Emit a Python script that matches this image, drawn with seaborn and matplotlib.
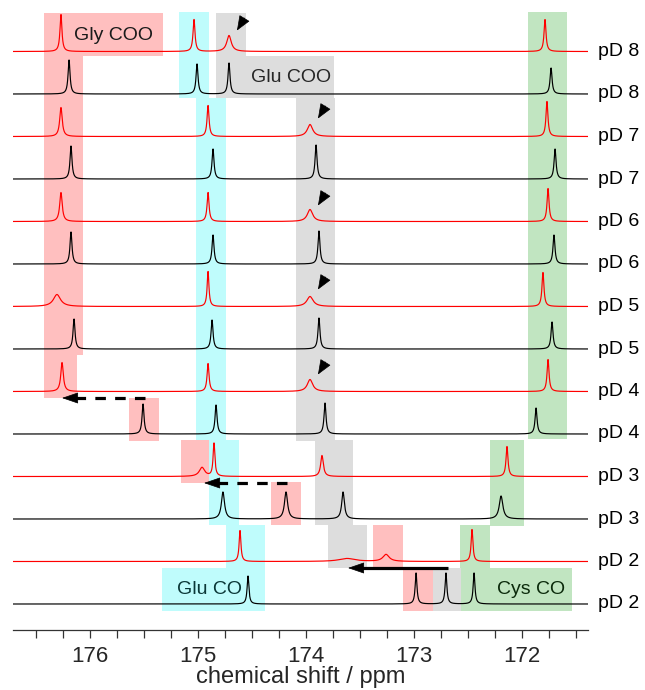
import numpy as np
import matplotlib
matplotlib.use("Agg")
import matplotlib.pyplot as plt
import matplotlib.transforms as mtransforms
from matplotlib.patches import Rectangle
from matplotlib.ticker import MultipleLocator, FuncFormatter
import seaborn as sns

# traces from bottom to top
trace_labels = ["pD 2", "pD 2", "pD 3", "pD 3", "pD 4", "pD 4", "pD 5",
                "pD 5", "pD 6", "pD 6", "pD 7", "pD 7", "pD 8", "pD 8"]
trace_colors = ["black", "red"] * 7
spacing = 42.5

# peak tables (ppm, height, fwhm in ppm), one row per trace
peak_pos = [
    [174.537, 172.981, 172.704, 172.444],
    [174.611, 173.620, 173.259, 172.463],
    [174.769, 174.185, 173.657, 172.194],
    [174.963, 174.852, 173.852, 172.139],
    [175.509, 174.833, 173.824, 171.870],
    [176.259, 174.907, 173.963, 171.759],
    [176.148, 174.870, 173.880, 171.722],
    [176.306, 174.907, 173.963, 171.806],
    [176.176, 174.861, 173.880, 171.704],
    [176.269, 174.907, 173.963, 171.759],
    [176.176, 174.861, 173.907, 171.694],
    [176.269, 174.907, 173.963, 171.769],
    [176.194, 175.009, 174.713, 171.731],
    [176.269, 175.037, 174.713, 171.787],
]
peak_height = [
    [28, 31, 31, 31],
    [31, 3, 7, 32],
    [27, 27, 27, 23],
    [9, 33, 21, 30],
    [30, 29, 31, 26],
    [29, 28, 12, 32],
    [30, 29, 31, 27],
    [12, 35, 10, 34],
    [32, 29, 33, 29],
    [29, 29, 12, 33],
    [33, 30, 34, 30],
    [29, 31, 12, 35],
    [34, 30, 31, 26],
    [37, 32, 16, 32],
]
peak_width = [
    [0.02, 0.02, 0.02, 0.02],
    [0.02, 0.18, 0.07, 0.02],
    [0.035, 0.035, 0.03, 0.04],
    [0.06, 0.02, 0.03, 0.022],
    [0.022, 0.022, 0.022, 0.022],
    [0.028, 0.022, 0.06, 0.022],
    [0.022, 0.022, 0.022, 0.022],
    [0.08, 0.02, 0.07, 0.022],
    [0.022, 0.022, 0.022, 0.022],
    [0.028, 0.022, 0.06, 0.022],
    [0.022, 0.022, 0.022, 0.022],
    [0.028, 0.022, 0.06, 0.022],
    [0.022, 0.022, 0.022, 0.022],
    [0.022, 0.022, 0.05, 0.022],
]

# highlight boxes: ppm from, ppm to, y from, y to, colour
box_x0 = [176.426, 176.426, 176.426, 175.176, 175.019, 174.833, 174.833, 174.093,
          171.944, 175.639, 175.157, 174.898, 174.324, 173.917, 172.296, 174.741,
          173.796, 173.380, 172.574, 175.333, 173.102, 172.824, 172.565]
box_x1 = [175.324, 176.065, 176.120, 174.898, 174.741, 174.556, 173.741, 173.731,
          171.583, 175.361, 174.898, 174.620, 174.046, 173.565, 171.981, 174.380,
          173.435, 173.102, 172.296, 174.380, 172.824, 172.565, 171.537]
box_y0 = [548, 249, 206, 506, 163, 548, 506, 163, 165, 163, 121, 79, 79, 79, 78,
          36, 36, 36, 36, -7, -7, -7, -7]
box_y1 = [591, 548, 249, 592, 506, 591, 548, 506, 592, 206, 164, 164, 122, 164,
          164, 79, 79, 79, 79, 36, 36, 36, 36]
box_kind = ["gly", "gly", "gly", "glu", "glu", "gluc", "gluc", "gluc", "cys",
            "gly", "gly", "glu", "gly", "gluc", "cys", "glu", "gluc", "gly", "cys",
            "glu", "gly", "gluc", "cys"]
box_colors = {"gly": "#ffbfbf", "glu": "#bffcfc", "gluc": "#dddddd", "cys": "#c1e5c1"}

# group names
group_names = ["Gly COO", "Glu COO", "Glu CO", "Cys CO"]
group_x = [175.787, 174.139, 174.898, 171.917]
group_y = [569, 527, 15, 14]
group_text_colors = ["#1a1a1a", "#262626", "#0b3838", "#0b2a0b"]

# arrowheads pointing at the Glu COO peak of the red traces
tri_ppm = [174.639, 173.889, 173.889, 173.889, 173.889]
tri_trace = [13, 11, 9, 7, 5]
tri_lift = [21, 18, 16, 17, 17]

# shift arrows
shift_from = [175.491, 174.176, 172.685]
shift_to = [176.259, 174.944, 173.611]
shift_y = [206, 121, 36]
shift_dashed = [True, True, False]

sns.set_style("white")
plt.rcParams["font.family"] = ["Liberation Sans", "DejaVu Sans"]

fig = plt.figure(figsize=(6.45, 6.9), dpi=100)
ax = fig.add_axes([13 / 645, 60 / 690, 575 / 645, 630 / 690])

ppm = np.linspace(176.713, 171.389, 6000)
for k in range(len(trace_labels)):
    y = np.full_like(ppm, k * spacing)
    for p, h, w in zip(peak_pos[k], peak_height[k], peak_width[k]):
        hw = w / 2
        y = y + h * hw ** 2 / ((ppm - p) ** 2 + hw ** 2)
    sns.lineplot(x=ppm, y=y, color=trace_colors[k], linewidth=0.85,
                 estimator=None, sort=False, ax=ax, zorder=3)

for x0, x1, y0, y1, kind in zip(box_x0, box_x1, box_y0, box_y1, box_kind):
    ax.add_patch(Rectangle((min(x0, x1), y0), abs(x1 - x0), y1 - y0,
                           facecolor=box_colors[kind], edgecolor="none", zorder=1))

for name, x, y, c in zip(group_names, group_x, group_y, group_text_colors):
    ax.text(x, y, name, ha="center", va="center", fontsize=14, color=c, zorder=4)

# small black wedges
for p, k, lift in zip(tri_ppm, tri_trace, tri_lift):
    ax.annotate("", xy=(p, k * spacing + lift), xytext=(5.5, 9.0),
                textcoords="offset points",
                arrowprops=dict(arrowstyle="-|>,head_length=0.95,head_width=0.38",
                                mutation_scale=10, color="black", lw=0.5,
                                shrinkA=0, shrinkB=0), zorder=5)

# shift arrows: line + head (pointing to higher ppm, i.e. left)
for x0, x1, y, dashed in zip(shift_from, shift_to, shift_y, shift_dashed):
    ls = (0, (3.3, 2.9)) if dashed else "-"
    ax.plot([x0, x1 - 0.1], [y, y], color="black", lw=2.3, linestyle=ls,
            solid_capstyle="butt", dash_capstyle="butt", zorder=5)
    ax.annotate("", xy=(x1, y), xytext=(11.5, 0), textcoords="offset points",
                arrowprops=dict(arrowstyle="-|>,head_length=1.05,head_width=0.36",
                                mutation_scale=10, color="black", lw=0.5,
                                shrinkA=0, shrinkB=0), zorder=5)

# labels on the right
trans = mtransforms.blended_transform_factory(ax.transAxes, ax.transData)
for k, lab in enumerate(trace_labels):
    ax.text(1.017, k * spacing, lab, transform=trans, ha="left", va="center",
            fontsize=14, color="black")

ax.set_xlim(176.713, 171.389)
ax.set_ylim(-26, 604)
ax.set_yticks([])
for side in ["left", "right", "top"]:
    ax.spines[side].set_visible(False)
ax.spines["bottom"].set_color("#333333")
ax.spines["bottom"].set_linewidth(0.9)
ax.xaxis.set_major_locator(MultipleLocator(0.25))
ax.xaxis.set_major_formatter(FuncFormatter(
    lambda v, pos: f"{v:.0f}" if abs(v - round(v)) < 1e-6 else ""))
ax.tick_params(axis="x", direction="out", length=5.5, width=0.9, color="#333333",
               labelsize=16, pad=6, bottom=True)
ax.set_xlabel("chemical shift / ppm", fontsize=17, labelpad=-1)
ax.set_facecolor("none")

fig.savefig("out.png", dpi=100)
